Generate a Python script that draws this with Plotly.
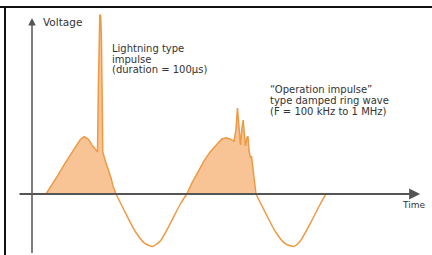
import plotly.graph_objects as go

# Waveform: time in phase degrees, voltage in per-unit
hump1_t = [0, 15.4, 30.9, 46.3, 61.7, 77.1, 87.4, 97.7, 108, 118.3, 128.6, 132.4,
           134.5, 136.3, 138.3, 140.4, 142.4, 144.5, 146, 151.7, 159.4, 167.1, 172.3, 180]
hump1_v = [0, 0.17, 0.35, 0.54, 0.72, 0.89, 1.0, 1.06, 1.02, 0.91, 0.80, 0.78,
           1.93, 3.04, 3.31, 3.31, 2.94, 1.74, 0.78, 0.63, 0.48, 0.30, 0.15, 0]

neg1_t = [180, 205, 230, 255, 275, 295, 320, 345, 362]
neg1_v = [0, -0.36, -0.70, -0.92, -0.97, -0.86, -0.54, -0.19, 0]

hump2_t = [362, 375, 391, 406, 422, 437, 452, 463, 473, 483.4, 488.5, 492.3, 496.2,
           500.1, 503.9, 507.0, 510.3, 512.9, 516.8, 519.3, 521.9, 525.8, 528.3,
           532.2, 537.3, 540]
hump2_v = [0, 0.20, 0.41, 0.61, 0.78, 0.91, 1.02, 1.04, 1.02, 0.98, 1.19, 1.59, 1.19,
           0.91, 1.22, 1.37, 1.09, 0.89, 1.04, 1.07, 0.81, 0.67, 0.70,
           0.48, 0.17, 0]

neg2_t = [540, 565, 590, 615, 637, 655, 680, 705, 720]
neg2_v = [0, -0.36, -0.70, -0.92, -0.97, -0.86, -0.54, -0.19, 0]

lightning_lines = ["Lightning type", "impulse", "(duration = 100\u00b5s)"]
operation_lines = ["\u201cOperation impulse\u201d", "type damped ring wave", "(F = 100 kHz to 1 MHz)"]
y_label = "Voltage"
x_label = "Time"

LINE = "#EE9A45"
FILL = "#F8C496"
AXIS = "#555555"
TEXT = "#333333"
FONT = "DejaVu Sans"

fig = go.Figure()
for t, v in [(hump1_t, hump1_v), (hump2_t, hump2_v)]:
    fig.add_trace(go.Scatter(x=t, y=v, mode="lines", fill="tozeroy",
                             fillcolor=FILL, line=dict(color=LINE, width=1.5),
                             hoverinfo="skip", showlegend=False))
for t, v in [(neg1_t, neg1_v), (neg2_t, neg2_v)]:
    fig.add_trace(go.Scatter(x=t, y=v, mode="lines",
                             line=dict(color=LINE, width=1.5, shape="spline", smoothing=0.6),
                             hoverinfo="skip", showlegend=False))

ann = []
# axes with arrows
ann.append(dict(x=962, y=0, ax=-72, ay=0, xref="x", yref="y", axref="x", ayref="y",
                showarrow=True, arrowhead=2, arrowsize=1, arrowwidth=2.2,
                arrowcolor=AXIS, text=""))
ann.append(dict(x=-36, y=3.26, ax=-36, ay=-1.12, xref="x", yref="y", axref="x", ayref="y",
                showarrow=True, arrowhead=2, arrowsize=1, arrowwidth=1.5,
                arrowcolor=AXIS, text=""))

ann.append(dict(x=-12.9, y=3.19, text=y_label, showarrow=False, xanchor="left",
                yanchor="middle", font=dict(family=FONT, size=10.5, color=TEXT)))
ann.append(dict(x=910, y=-0.20, text=x_label, showarrow=False, xanchor="left",
                yanchor="middle", font=dict(family=FONT, size=9, color=TEXT)))
for line, v in zip(lightning_lines, [2.70, 2.50, 2.31]):
    ann.append(dict(x=164.6, y=v, text=line, showarrow=False, xanchor="left",
                    yanchor="middle", font=dict(family=FONT, size=10, color=TEXT)))
for line, v in zip(operation_lines, [1.94, 1.73, 1.53]):
    ann.append(dict(x=570.8, y=v, text=line, showarrow=False, xanchor="left",
                    yanchor="middle", font=dict(family=FONT, size=10, color=TEXT)))

shapes = [
    dict(type="line", xref="paper", yref="paper", x0=0, x1=1, y0=1 - 7 / 255, y1=1 - 7 / 255,
         line=dict(color="#111111", width=2)),
    dict(type="line", xref="paper", yref="paper", x0=5 / 432, x1=5 / 432, y0=0, y1=1 - 6 / 255,
         line=dict(color="#111111", width=2)),
]

fig.update_layout(
    width=432, height=255,
    margin=dict(l=0, r=0, t=0, b=0),
    paper_bgcolor="white", plot_bgcolor="white",
    xaxis=dict(range=[-118.3, 992.6], visible=False, fixedrange=True),
    yaxis=dict(range=[-1.13, 3.593], visible=False, fixedrange=True),
    annotations=ann, shapes=shapes,
)

fig.write_html("out.html", config={"displayModeBar": False},
               post_script="document.body.style.margin='0';document.body.style.overflow='hidden';")
